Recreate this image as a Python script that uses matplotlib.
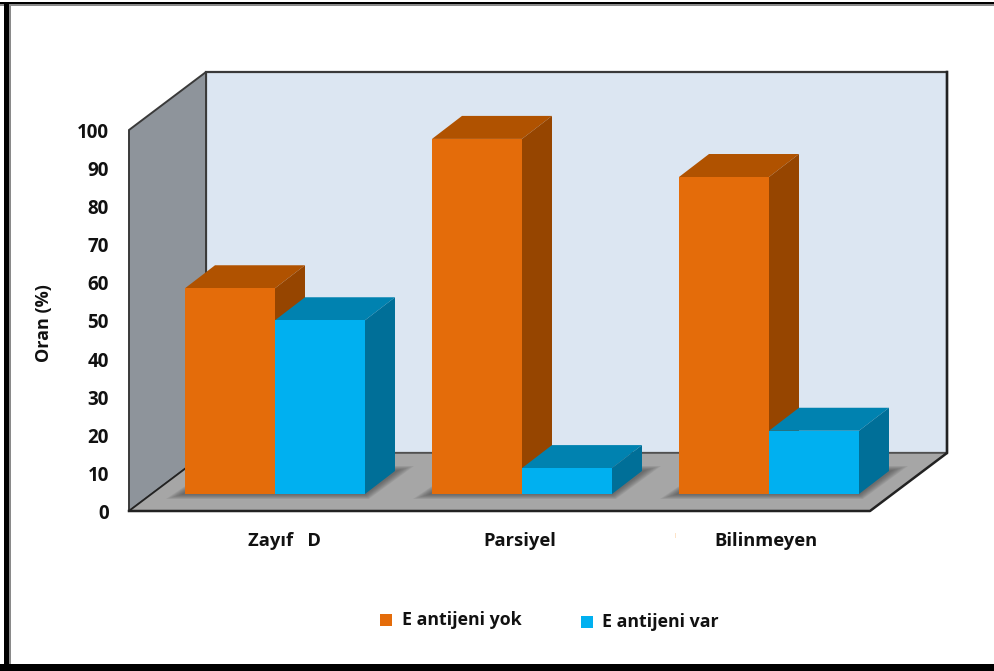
import matplotlib
matplotlib.use("Agg")
import matplotlib.pyplot as plt
from matplotlib.patches import Polygon, Rectangle

plt.rcParams['font.family'] = ['Open Sans', 'Noto Sans', 'DejaVu Sans']

categories = ['Zayıf   D', 'Parsiyel', 'Bilinmeyen']
e_yok = [54, 93.2, 83.2]
e_var = [45.6, 6.8, 16.6]
y_ticks = [0, 10, 20, 30, 40, 50, 60, 70, 80, 90, 100]
legend_labels = ['E antijeni yok', 'E antijeni var']

W, H = 995, 671
PX_Y = 3.81    # pixeles por unidad de porcentaje
PX_X = 247.0   # pixeles entre grupos
X0, Y0 = 275, 511  # donde cae el grupo 0 y el valor 0


def dx(px):
    return px / PX_X


def dy(px):
    return px / PX_Y


def pos(px, py):
    # pixel de la imagen a coordenadas de datos
    return (px - X0) / PX_X, (Y0 - py) / PX_Y


fig = plt.figure(figsize=(W / 100, H / 100), dpi=100)
ax = fig.add_axes([0, 0, 1, 1])
ax.set_xlim(pos(0, 0)[0], pos(W, 0)[0])
ax.set_ylim(pos(0, H)[1], pos(0, 0)[1])
ax.axis('off')

# caja 3D: fondo, pared izquierda y suelo
wall_dx, wall_dy = dx(77), dy(58)
x_left, x_right = pos(129, 0)[0], pos(870, 0)[0]
top = y_ticks[-1]
edge = '#3a3a3a'
ax.add_patch(Polygon([(x_left + wall_dx, wall_dy), (x_right + wall_dx, wall_dy),
                      (x_right + wall_dx, top + wall_dy), (x_left + wall_dx, top + wall_dy)],
                     fc='#dce6f2', ec=edge, lw=1.6, zorder=1))
ax.add_patch(Polygon([(x_left, 0), (x_left + wall_dx, wall_dy),
                      (x_left + wall_dx, top + wall_dy), (x_left, top)],
                     fc='#8e949b', ec=edge, lw=1.4, zorder=2))
ax.add_patch(Polygon([(x_left, 0), (x_right, 0), (x_right + wall_dx, wall_dy),
                      (x_left + wall_dx, wall_dy)],
                     fc='#a6a6a6', ec='none', zorder=2))
ax.plot([x_left, x_right, x_right + wall_dx, x_right + wall_dx],
        [0, 0, wall_dy, top + wall_dy], color='#222222', lw=1.8, zorder=3)
ax.plot([x_left, x_left + wall_dx], [0, wall_dy], color='#222222', lw=1.2, zorder=3)
ax.plot([x_left + wall_dx, x_right + wall_dx], [wall_dy, wall_dy], color='#555555', lw=1.2, zorder=2.5)

# barras
base = dy(511 - 494)
bar_w = dx(90)
bar_dx, bar_dy = dx(30), dy(23)
colors = [('#e46c0a', '#b05200', '#964500'), ('#00b0f0', '#0082b0', '#006f98')]


def draw_bar(x, val, cols, z):
    front, cap, side = cols
    y1 = base + val
    ax.add_patch(Rectangle((x, base), bar_w, val, fc=front, ec='none', zorder=z + 0.2))
    ax.add_patch(Polygon([(x, y1), (x + bar_w, y1), (x + bar_w + bar_dx, y1 + bar_dy),
                          (x + bar_dx, y1 + bar_dy)], fc=cap, ec='none', zorder=z))
    ax.add_patch(Polygon([(x + bar_w, base), (x + bar_w + bar_dx, base + bar_dy),
                          (x + bar_w + bar_dx, y1 + bar_dy), (x + bar_w, y1)],
                         fc=side, ec='none', zorder=z + 0.1))


for i in range(len(categories)):
    # sombra difusa en el suelo
    for k in range(7):
        g = dx(19 - 2.5 * k)
        h = dy(5 - 0.7 * k)
        ax.add_patch(Polygon([(i - bar_w - g, base - h), (i + bar_w + g * 0.2, base - h),
                              (i + bar_w + bar_dx + g, base + bar_dy + h),
                              (i - bar_w + bar_dx, base + bar_dy + h)],
                             fc='#3c3c3c', ec='none', alpha=0.1, zorder=4))
    draw_bar(i - bar_w, e_yok[i], colors[0], 5)
    draw_bar(i, e_var[i], colors[1], 6)

# eje y
for t in y_ticks:
    ax.text(pos(109, 0)[0], t - dy(0.5), str(t), ha='right', va='center_baseline', fontsize=13.5,
            fontweight='bold', color='#111111')
ax.text(*pos(44, 323), 'Oran (%)', rotation=90, ha='center', va='center', fontsize=13,
        fontweight='bold', color='#111111')

# etiquetas de categoria
label_px = [285, 520, 766]
for px, name in zip(label_px, categories):
    ax.text(*pos(px, 541.5), name, ha='center', va='center', fontsize=13.2,
            fontweight='bold', color='#111111')
ax.add_patch(Rectangle(pos(675, 538), dx(1.5), dy(5), fc='#fde3c8', ec='none'))

# leyenda
legend_px = [(380, 620, 402), (581, 622, 602)]
for (sx, sy, tx), c, name in zip(legend_px, colors, legend_labels):
    ax.add_patch(Rectangle(pos(sx, sy + 6), dx(12), dy(12), fc=c[0], ec='none'))
    ax.text(*pos(tx, sy), name, ha='left', va='center', fontsize=12.8,
            fontweight='bold', color='#111111')

# marco negro de la imagen
black = '#000000'
ax.add_patch(Rectangle(pos(0, 4), dx(W), dy(2), fc=black, ec='none', zorder=20))
ax.add_patch(Rectangle(pos(0, 5.5), dx(W), dy(1.5), fc='#8a8a8a', ec='none', zorder=19))
ax.add_patch(Rectangle(pos(4, H), dx(5), dy(H - 2), fc=black, ec='none', zorder=20))
ax.add_patch(Rectangle(pos(9, H), dx(2), dy(H - 4), fc='#8a8a8a', ec='none', zorder=19))
ax.add_patch(Rectangle(pos(0, H), dx(W), dy(7), fc=black, ec='none', zorder=20))

fig.savefig('out.png', dpi=100)
